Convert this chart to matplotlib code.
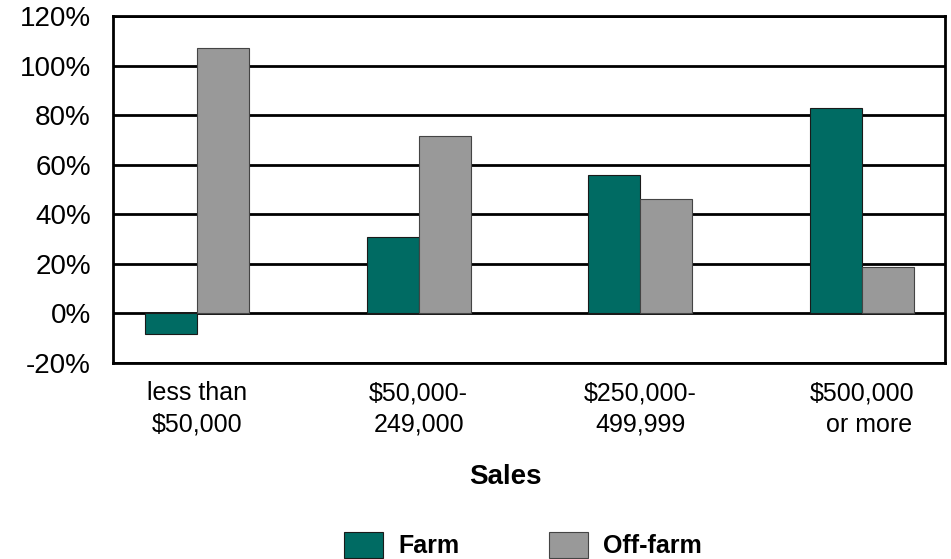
import matplotlib
matplotlib.use("Agg")
import matplotlib.pyplot as plt
import numpy as np

plt.rcParams['font.family'] = ['Liberation Sans', 'DejaVu Sans']

# Income share by sales class
categories = ["less than\n$50,000", "$50,000-\n249,000", "$250,000-\n499,999", "$500,000\n  or more"]
farm = [-8.5, 31, 55.7, 83]
off_farm = [107, 71.7, 46, 18.7]
y_ticks = [-20, 0, 20, 40, 60, 80, 100, 120]
y_tick_labels = [f"{v}%" for v in y_ticks]

W, H = 951, 559
fig = plt.figure(figsize=(W / 100, H / 100), dpi=100)
ax = fig.add_axes([113 / W, 1 - 363 / H, (945 - 113) / W, (363 - 16) / H])

x = np.arange(len(categories))
w = 0.235
ax.bar(x - w / 2, farm, w, color='#006B63', edgecolor='#1a1a1a', linewidth=0.8,
       label='Farm', zorder=3)
ax.bar(x + w / 2, off_farm, w, color='#999999', edgecolor='#444444', linewidth=0.8,
       label='Off-farm', zorder=3)

ax.set_ylim(-20, 120)
ax.set_yticks(y_ticks)
ax.set_yticklabels(y_tick_labels)
ax.set_xlim(-0.379, 3.374)
ax.set_xticks(x)
ax.set_xticklabels(categories, linespacing=1.4)

ax.yaxis.grid(True, color='black', linewidth=2, zorder=1)
ax.xaxis.grid(False)
for s in ax.spines.values():
    s.set_linewidth(2)
    s.set_color('black')

ax.tick_params(axis='y', length=0, pad=16, labelsize=20)
ax.tick_params(axis='x', length=0, pad=13, labelsize=18)

fig.text(505 / W, 1 - 477 / H, 'Sales', ha='center', va='center',
         fontweight='bold', fontsize=20)

fig.legend(loc='center', bbox_to_anchor=(523 / W, 1 - 545 / H), ncol=2, frameon=False,
           handlelength=1.55, handleheight=1.2, columnspacing=3.6, handletextpad=0.6,
           prop=dict(weight='bold', size=18))

fig.savefig('out.png', dpi=100)
